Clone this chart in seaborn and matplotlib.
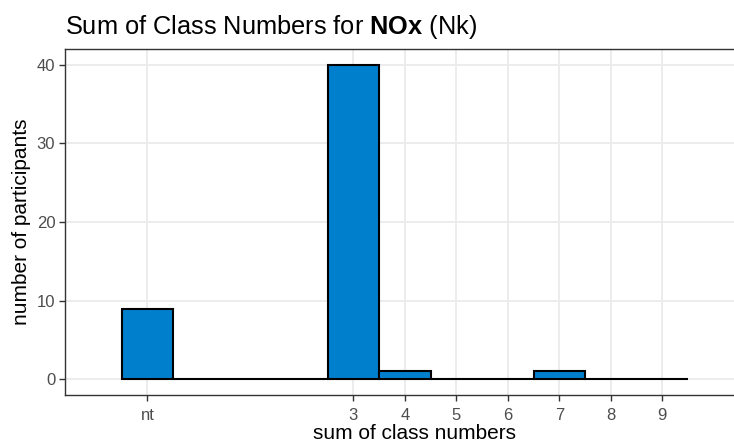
import matplotlib
matplotlib.use("Agg")
import matplotlib.pyplot as plt
import seaborn as sns
import pandas as pd

# data
class_sums = ["nt", "0", "1", "2", "3", "4", "5", "6", "7", "8", "9"]
participants = [9, 0, 0, 0, 40, 1, 0, 0, 1, 0, 0]
tick_labels = ["nt", "3", "4", "5", "6", "7", "8", "9"]
y_ticks = [0, 10, 20, 30, 40]

sns.set_style("whitegrid")
plt.rcParams["font.family"] = ["Liberation Sans", "DejaVu Sans"]
plt.rcParams["mathtext.fontset"] = "custom"
plt.rcParams["mathtext.rm"] = "Liberation Sans"
plt.rcParams["mathtext.bf"] = "Liberation Sans:bold"

# "nt" (not tested) sits one step left of zero
to_num = lambda s: -1 if s == "nt" else int(s)
df = pd.DataFrame({"sum": [to_num(s) for s in class_sums], "n": participants})

fig = plt.figure(figsize=(7.34, 4.45), dpi=100)
W, H = 734, 445
# panel runs past the right edge of the picture, as in the original crop
ax = fig.add_axes([65 / W, 50 / H, 700 / W, 346 / H])

sns.barplot(data=df, x="sum", y="n", native_scale=True, width=1,
            color="#0080CC", saturation=1, edgecolor="black",
            linewidth=1.5, ax=ax, zorder=3)

ax.set_xlim(-2.6, -2.6 + 700 / 51.5)
ax.set_ylim(-2, 42)
ax.set_xticks([to_num(s) for s in tick_labels])
ax.set_xticklabels(tick_labels)
ax.set_yticks(y_ticks)

ax.grid(True, color="#EBEBEB", linewidth=1.3, zorder=0)
ax.set_axisbelow(True)
for sp in ax.spines.values():
    sp.set_color("#333333")
    sp.set_linewidth(1.0)
ax.tick_params(axis="both", which="major", length=4, width=1, color="#333333",
               labelcolor="#4D4D4D", labelsize=12, pad=3,
               bottom=True, left=True)
ax.tick_params(axis="x", pad=5)

ax.set_xlabel("sum of class numbers", fontsize=15, color="black", labelpad=1)
ax.set_ylabel("number of participants", fontsize=15, color="black", labelpad=4)

fig.text(65 / W, 1 - 34 / H, r"Sum of Class Numbers for $\mathbf{NOx}$ (Nk)",
         fontsize=18.3, color="black", ha="left", va="baseline")

fig.savefig("out.png", dpi=100)
